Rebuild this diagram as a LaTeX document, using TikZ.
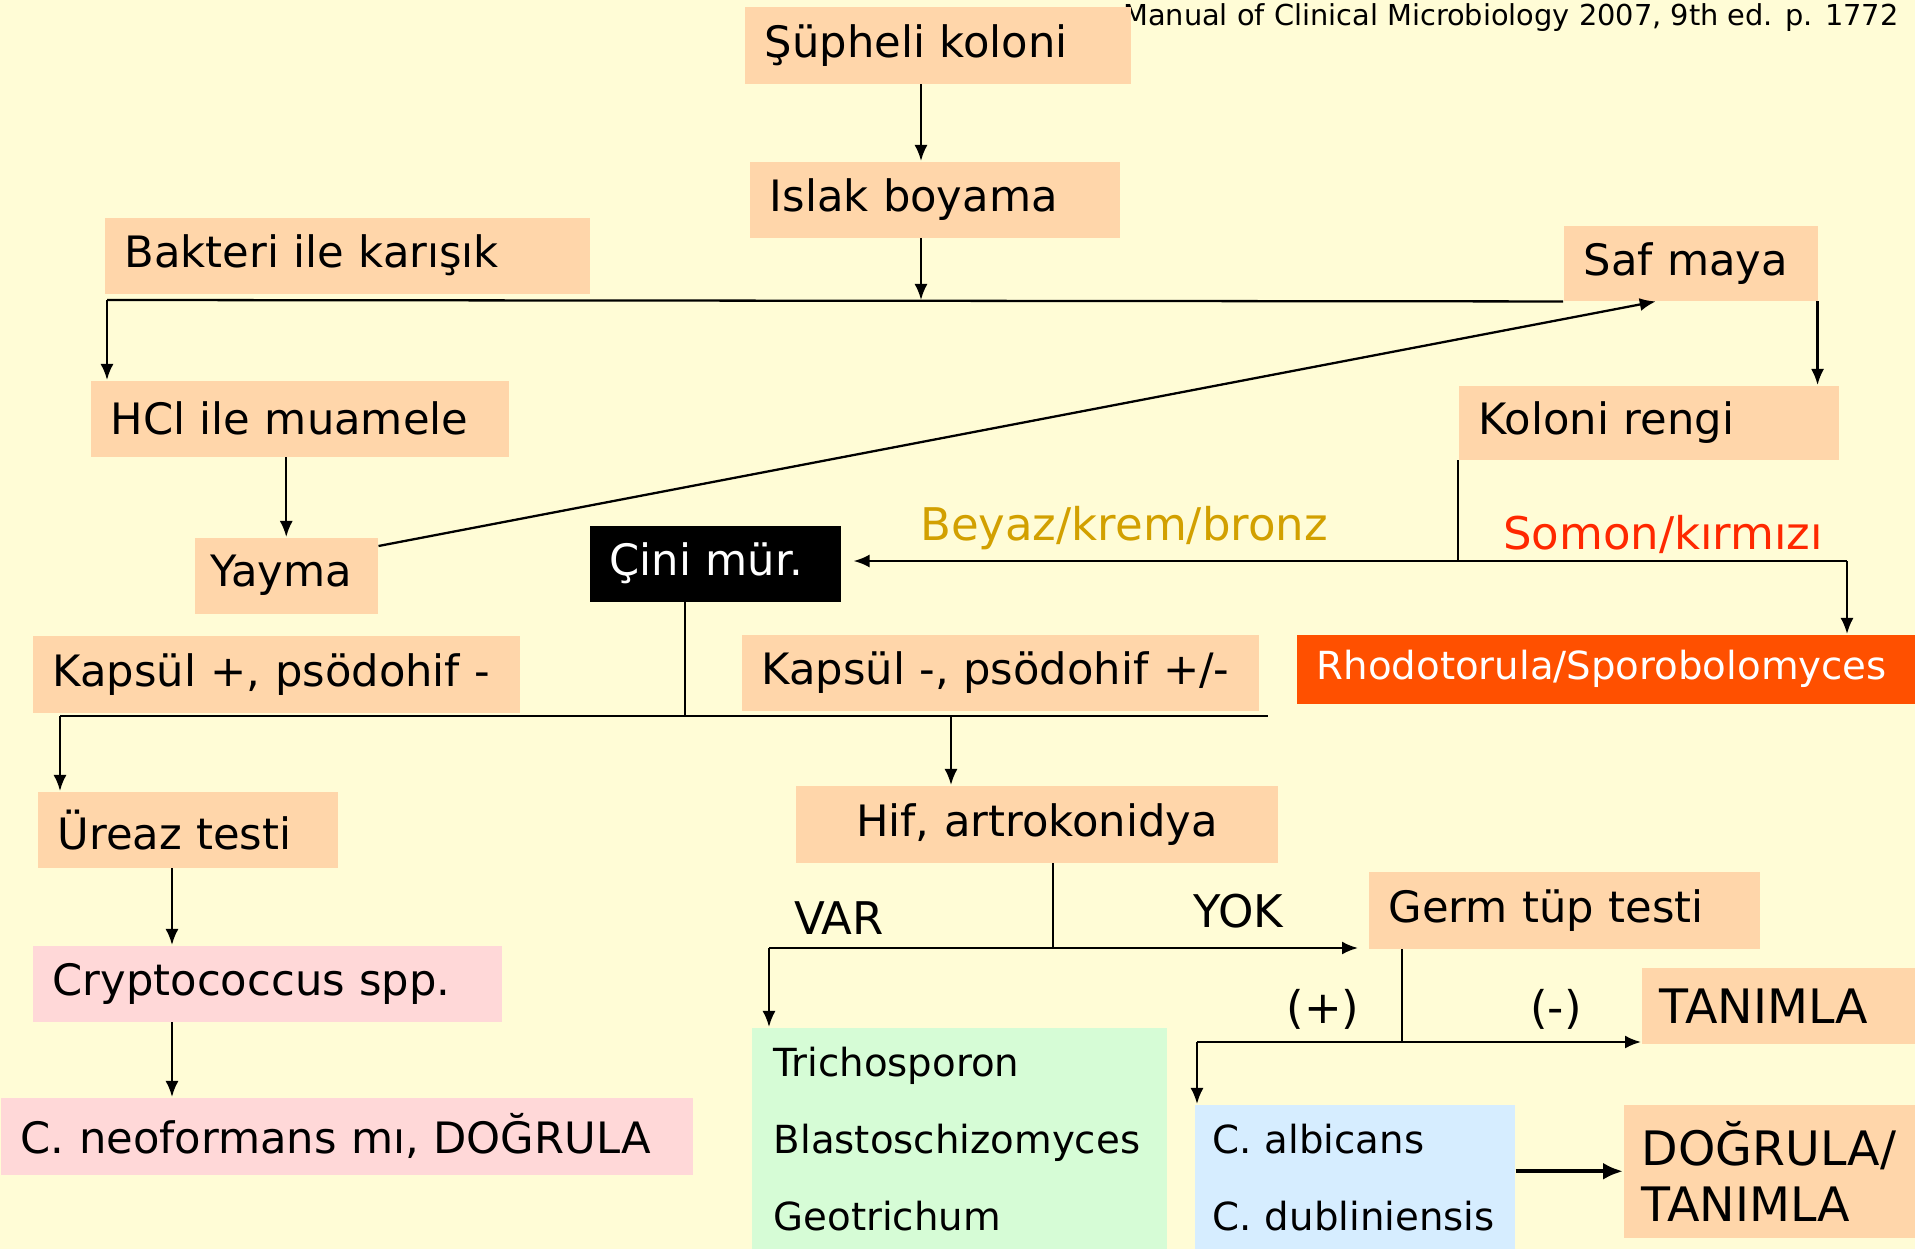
\documentclass[tikz,border=0pt]{standalone}
\usepackage{fontspec}
\setmainfont{DejaVu Sans}
\usetikzlibrary{arrows.meta}
\definecolor{bgcream}{RGB}{255,252,214}
\definecolor{peach}{RGB}{255,214,170}
\definecolor{pinkbox}{RGB}{255,216,216}
\definecolor{greenbox}{RGB}{214,252,214}
\definecolor{bluebox}{RGB}{214,237,255}
\definecolor{rhodored}{RGB}{255,80,0}
\definecolor{golden}{RGB}{210,160,0}
\definecolor{somonred}{RGB}{255,40,0}
\hyphenpenalty=10000
\newcommand\boxfont{\fontsize{12.3}{15}\selectfont}
\newcommand\listfont{\fontsize{11}{21.9}\selectfont}

\begin{document}
\begin{tikzpicture}[x=0.01cm, y=-0.01cm,
  box/.style={fill=peach, anchor=north west, inner xsep=0.2cm, inner ysep=0pt, align=left, font=\boxfont},
  conn/.style={line width=0.65pt},
  arr/.style={conn, -{Latex[length=1.6mm,width=1.3mm]}},
  bigarr/.style={line width=1.1pt, -{Latex[length=2mm,width=1.7mm]}},
  lab/.style={font=\fontsize{12.8}{15}\selectfont}]
  \fill[bgcream] (0,0) rectangle (1915,1249);
  \useasboundingbox (0,0) rectangle (1915,1249);

  \node[anchor=base east, inner sep=0pt, font=\fontsize{8.2}{10}\selectfont] (src) at (1899,26) {Manual of Clinical Microbiology 2007, 9th ed. p. 1772};

  \node[box, text width=3.46cm, minimum height=0.77cm] (sus) at (744,6) {Şüpheli koloni};
  \node[box, text width=3.30cm, minimum height=0.76cm] (islak) at (749,161) {Islak boyama};
  \node[box, text width=4.45cm, minimum height=0.76cm] (bakteri) at (104,217) {Bakteri ile karışık};
  \node[box, text width=2.14cm, minimum height=0.75cm] (saf) at (1563,225) {Saf maya};
  \node[box, text width=3.78cm, minimum height=0.76cm] (hcl) at (90,380) {HCl ile muamele};
  \node[box, text width=1.51cm, inner xsep=0.16cm, minimum height=0.76cm] (yayma) at (194,537) {Yayma};
  \node[box, text width=3.40cm, minimum height=0.74cm] (koloni) at (1458,385) {Koloni rengi};
  \node[box, fill=black, text=white, text width=2.11cm, minimum height=0.76cm] (cini) at (589,525) {Çini mür.};
  \node[box, fill=rhodored, text=white, font=\fontsize{11}{13}\selectfont, text width=5.79cm, minimum height=0.69cm] (rhodo) at (1296,634) {Rhodotorula/Sporobolomyces};
  \node[box, text width=4.47cm, minimum height=0.77cm] (kpos) at (32,635) {Kapsül +, psödohif -};
  \node[box, text width=4.77cm, minimum height=0.76cm] (kneg) at (741,634) {Kapsül -, psödohif +/-};
  \node[box, text width=2.60cm, minimum height=0.76cm] (ureaz) at (37,791) {Üreaz testi};
  \node[box, fill=pinkbox, text width=4.29cm, minimum height=0.76cm] (crypto) at (32,945) {Cryptococcus spp.};
  \node[box, fill=pinkbox, text width=6.52cm, minimum height=0.77cm] (neo) at (0,1097) {C. neoformans mı, DOĞRULA};
  \node[box, align=center, text width=4.42cm, minimum height=0.77cm] (hif) at (795,785) {Hif, artrokonidya};
  \node[box, text width=3.51cm, minimum height=0.77cm] (germ) at (1368,871) {Germ tüp testi};
  \node[box, font=\fontsize{13.5}{16}\selectfont, inner xsep=0.18cm, text width=2.38cm, minimum height=0.76cm] (tanimla) at (1641,967) {TANIMLA};
  \node[box, fill=greenbox, font=\listfont, inner xsep=0.22cm, text width=3.71cm, minimum height=2.22cm] (green) at (751,1027) {Trichosporon\\Blastoschizomyces\\Geotrichum};
  \node[box, fill=bluebox, font=\listfont, inner xsep=0.18cm, text width=2.84cm, minimum height=1.45cm] (blue) at (1194,1104) {C. albicans\\C. dubliniensis};
  \node[box, font=\fontsize{13.5}{16}\selectfont, inner xsep=0.18cm, text width=2.56cm, minimum height=1.33cm] (dogrula) at (1623,1104) {DOĞRULA/\\TANIMLA};

  \node[lab, text=golden] (beyaz) at (1124,528) {Beyaz/krem/bronz};
  \node[lab, text=somonred] (somon) at (1663,534) {Somon/kırmızı};
  \node[lab] (var) at (839,918) {VAR};
  \node[lab] (yok) at (1238,911) {YOK};
  \node[lab] (plus) at (1323,1009) {(+)};
  \node[lab] (minus) at (1556,1009) {(-)};

  \coordinate (jTop) at (921,300);
  \coordinate (jLeft) at (107,300);
  \coordinate (jKol) at (1458,561);
  \coordinate (jR) at (1847,561);
  \coordinate (jCini) at (685,716);
  \coordinate (jK1) at (60,716);
  \coordinate (jK2) at (1268,716);
  \coordinate (jHif) at (951,716);
  \coordinate (colU) at (172,900);
  \coordinate (jVar) at (769,948);
  \coordinate (jHif2) at (1053,948);
  \coordinate (jGerm) at (1402,1042);
  \coordinate (jPos) at (1197,1042);

  \draw[arr] (sus.south -| jTop) -- (islak.north -| jTop);
  \draw[arr] (islak.south -| jTop) -- (jTop);
  \draw[conn] (saf.south west) -- (jLeft);
  \draw[arr] (jLeft) -- (jLeft |- hcl.north);
  \draw[arr] (hcl.south -| yayma.north) -- (yayma.north);
  \draw[arr] ([yshift=-0.09cm]yayma.north east) -- ([xshift=-0.35cm]saf.south);
  \draw[arr] ([xshift=-0.01cm]saf.south east) -- ([xshift=-0.01cm]saf.south east |- koloni.north);
  \draw[conn] (koloni.south west) -- (jKol);
  \draw[arr] (jR) -- ([xshift=0.12cm]cini.east |- jR);
  \draw[arr] (jR) -- (jR |- rhodo.north);
  \draw[conn] (cini.south -| jCini) -- (jCini);
  \draw[conn] (jK1) -- (jK2);
  \draw[arr] (jK1) -- (jK1 |- ureaz.north);
  \draw[arr] (jHif) -- (jHif |- hif.north);
  \draw[arr] (ureaz.south -| colU) -- (crypto.north -| colU);
  \draw[arr] (crypto.south -| colU) -- (neo.north -| colU);
  \draw[conn] (hif.south -| jHif2) -- (jHif2);
  \draw[arr] (jVar) -- ([xshift=-0.1cm]germ.south west |- jVar);
  \draw[arr] (jVar) -- (jVar |- green.north);
  \draw[conn] (germ.south -| jGerm) -- (jGerm);
  \draw[arr] (jPos) -- (jPos -| tanimla.south west);
  \draw[arr] (jPos) -- (jPos |- blue.north);
  \draw[bigarr] (blue.east |- dogrula.west) -- (dogrula.west);
\end{tikzpicture}
\end{document}
